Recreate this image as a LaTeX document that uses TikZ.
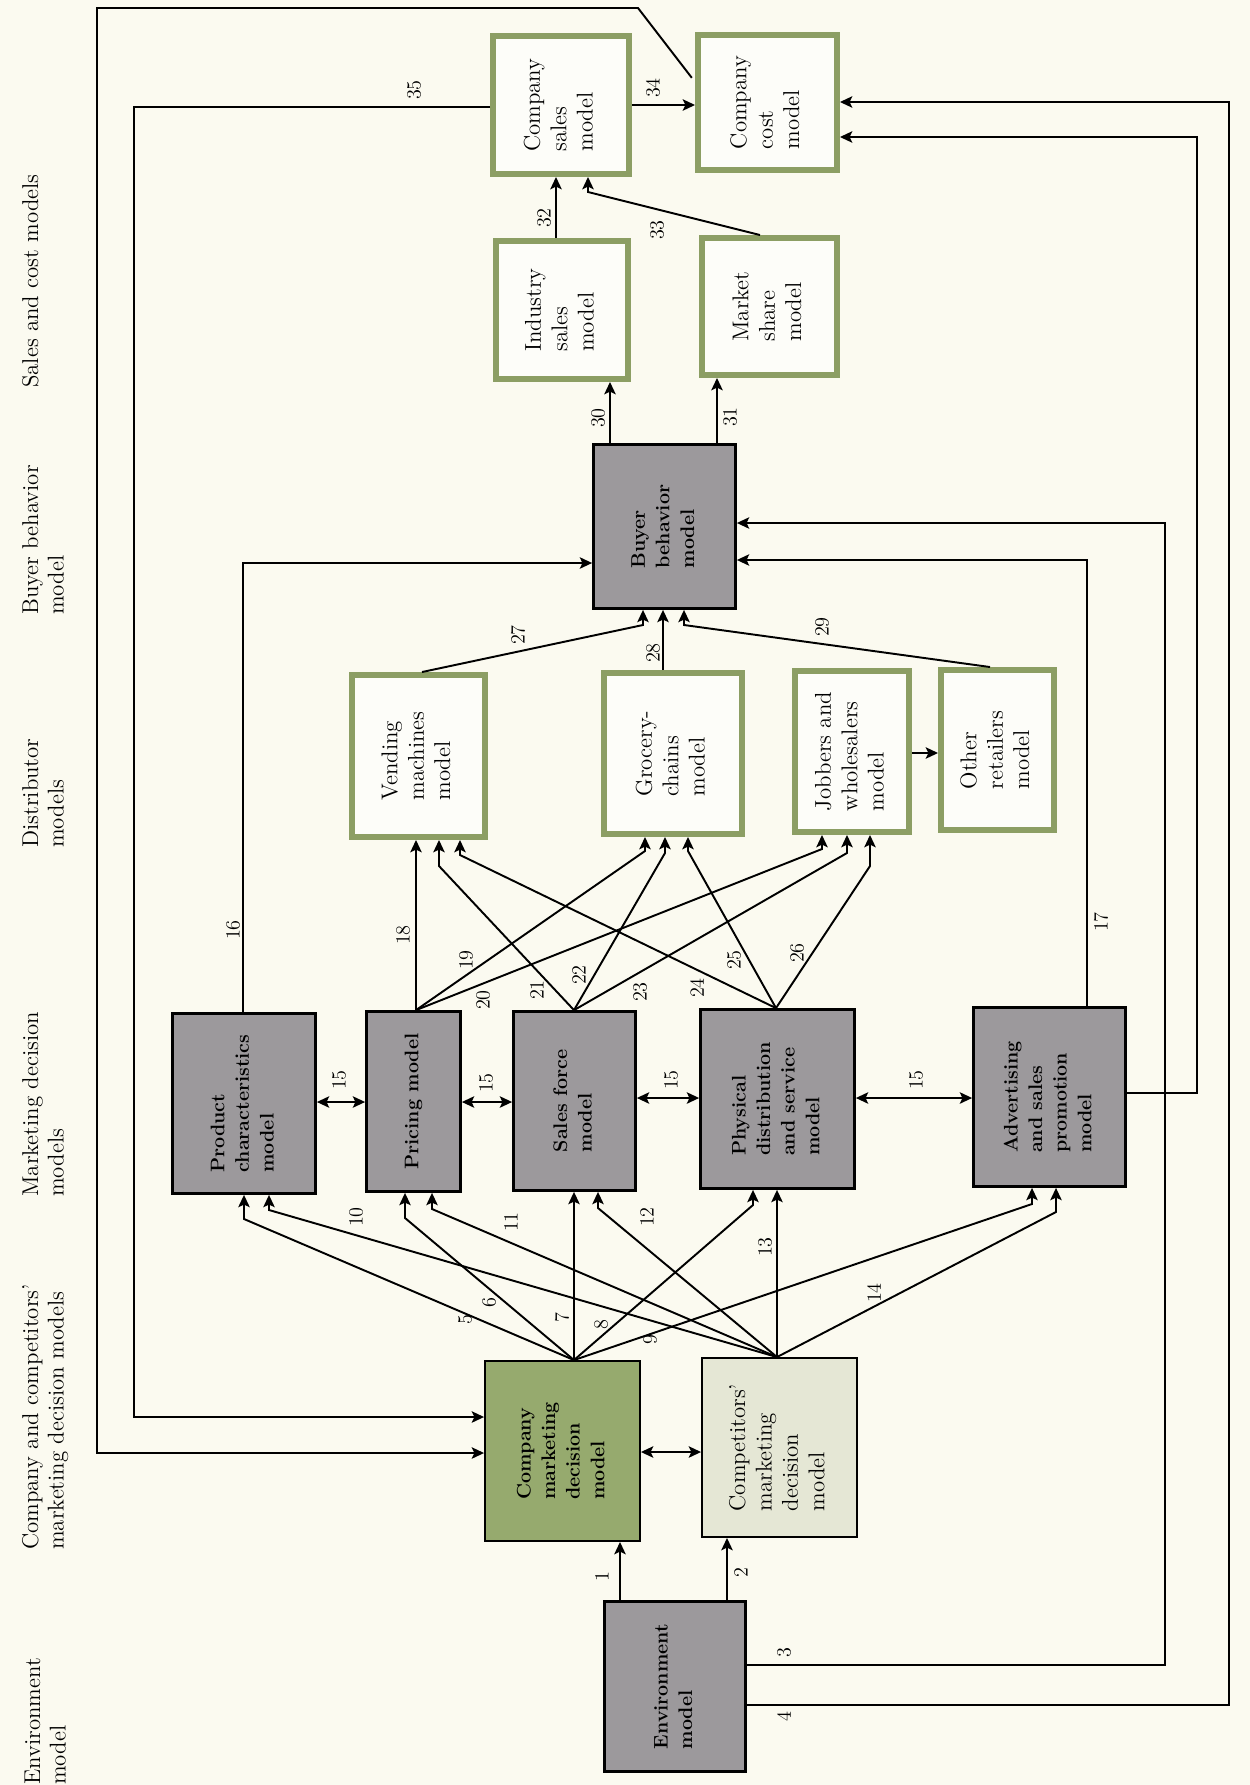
\documentclass[tikz,border=0pt]{standalone}
\usepackage{graphicx}
\usetikzlibrary{arrows.meta}

\definecolor{paper}{RGB}{251,250,240}
\definecolor{olive}{RGB}{140,158,100}
\definecolor{leaf}{RGB}{150,170,110}
\definecolor{pale}{RGB}{229,231,213}
\definecolor{slate}{RGB}{156,153,156}

\newcommand\regfont{\fontsize{13}{15}\selectfont}
\newcommand\bldfont{\fontsize{11.2}{14}\selectfont\bfseries}
\newcommand\numfont{\fontsize{11.5}{13}\selectfont}
\newcommand\headfont{\fontsize{13}{14.5}\selectfont}
% text set bottom-to-top, lines aligned at their start
\newcommand\vlines[1]{\rotatebox{90}{\begin{tabular}{@{}l@{}}#1\end{tabular}}}

\tikzset{
  gbox/.style={draw=olive, line width=3.4pt, fill=paper!40!white, inner sep=0pt, font=\regfont},
  dbox/.style={draw=black, line width=1.6pt, fill=slate, inner sep=0pt, font=\bldfont},
  tip/.tip={Stealth[length=7pt,width=6.5pt,inset=1.5pt]},
  wire/.style={line width=1.1pt},
  arr/.style={line width=1.1pt, -tip},
  dbl/.style={line width=1.1pt, tip-tip},
  num/.style={font=\numfont, inner sep=0pt},
  head/.style={font=\headfont, inner sep=0pt, anchor=south west},
}

\begin{document}
\begin{tikzpicture}[x=0.02cm, y=-0.02cm, line join=miter]
\useasboundingbox (0,0) rectangle (1250,1785);
\fill[paper] (0,0) rectangle (1250,1785);

% column headings
\node[head] (h1) at (20,388)  {\vlines{Sales and cost models}};
\node[head] (h2) at (20,615)  {\vlines{Buyer behavior\\model}};
\node[head] (h3) at (20,848)  {\vlines{Distributor\\models}};
\node[head] (h4) at (20,1197) {\vlines{Marketing decision\\models}};
\node[head] (h5) at (20,1550) {\vlines{Company and competitors'\\marketing decision models}};
\node[head] (h6) at (22,1785) {\vlines{Environment\\model}};

% sales and cost models
\node[gbox, minimum width=2.72cm, minimum height=2.76cm] (cs) at (561,105)   {\vlines{Company\\sales\\model}};
\node[gbox, minimum width=2.78cm, minimum height=2.70cm] (cc) at (767.5,102.5) {\vlines{Company\\cost\\model}};
\node[gbox, minimum width=2.64cm, minimum height=2.76cm] (is) at (562,310)   {\vlines{Industry\\sales\\model}};
\node[gbox, minimum width=2.70cm, minimum height=2.74cm] (ms) at (769.5,306.5) {\vlines{Market\\share\\model}};

% buyer behavior model
\node[dbox, minimum width=2.84cm, minimum height=3.28cm] (bb) at (664.5,526.5) {\vlines{Buyer\\behavior\\model}};

% distributor models
\node[gbox, minimum width=2.66cm, minimum height=3.24cm] (vm) at (418.5,756)  {\vlines{Vending\\machines\\model}};
\node[gbox, minimum width=2.76cm, minimum height=3.22cm] (gc) at (673,753.5)  {\vlines{Grocery-\\chains\\model}};
\node[gbox, minimum width=2.28cm, minimum height=3.22cm] (jw) at (852,751.5)  {\vlines{Jobbers and\\wholesalers\\model}};
\node[gbox, minimum width=2.26cm, minimum height=3.20cm] (or) at (997.5,750)  {\vlines{Other\\retailers\\model}};

% marketing decision models
\node[dbox, minimum width=2.86cm, minimum height=3.60cm] (pc) at (244,1103.5)  {\vlines{Product\\characteristics\\model}};
\node[dbox, minimum width=1.88cm, minimum height=3.60cm] (pm) at (413.5,1101.5) {\vlines{Pricing model}};
\node[dbox, minimum width=2.44cm, minimum height=3.58cm] (sf) at (574.5,1101)  {\vlines{Sales force\\model}};
\node[dbox, minimum width=3.08cm, minimum height=3.58cm] (pd) at (777.5,1099)  {\vlines{Physical\\distribution\\and service\\model}};
\node[dbox, minimum width=3.04cm, minimum height=3.58cm] (ad) at (1049.5,1097) {\vlines{Advertising\\and sales\\promotion\\model}};

% company and competitors' decision models
\node[draw=black, line width=1.1pt, fill=leaf, inner sep=0pt, font=\bldfont,
      minimum width=3.10cm, minimum height=3.60cm] (cm) at (562.5,1451) {\vlines{Company\\marketing\\decision\\model}};
\node[draw=black, line width=1.1pt, fill=pale, inner sep=0pt, font=\regfont,
      minimum width=3.10cm, minimum height=3.58cm] (cp) at (779.5,1447.5) {\vlines{Competitors'\\marketing\\decision\\model}};

% environment model
\node[dbox, minimum width=2.82cm, minimum height=3.40cm] (en) at (675,1686.5) {\vlines{Environment\\model}};

% environment links
\draw[arr] (en.north -| 620,0) -- (cm.south -| 620,0);
\draw[arr] (en.north -| 727,0) -- (cp.south -| 727,0);
\draw[arr] (en.east |- 0,1665) -- (1165,1665) -- (1165,523) -- (bb.east |- 0,523);
\draw[arr] (en.east |- 0,1705) -- (1229,1705) -- (1229,102) -- (cc.east |- 0,102);
\draw[dbl] (cm.east |- 0,1452) -- (cp.west |- 0,1452);

% decision models to marketing decision models
\draw[arr] (cm.north -| 574,0) -- (244,1219) -- (pc.south -| 244,0);
\draw[arr] (cm.north -| 574,0) -- (405,1218) -- (pm.south -| 405,0);
\draw[arr] (cm.north -| 574,0) -- (sf.south -| 574,0);
\draw[arr] (cm.north -| 574,0) -- (753,1205) -- (pd.south -| 753,0);
\draw[arr] (cm.north -| 574,0) -- (1032,1204) -- (ad.south -| 1032,0);
\draw[arr] (cp.north -| 777,0) -- (269,1210) -- (pc.south -| 269,0);
\draw[arr] (cp.north -| 777,0) -- (432,1209) -- (pm.south -| 432,0);
\draw[arr] (cp.north -| 777,0) -- (598,1208) -- (sf.south -| 598,0);
\draw[arr] (cp.north -| 777,0) -- (pd.south -| 777,0);
\draw[arr] (cp.north -| 777,0) -- (1056,1212) -- (ad.south -| 1056,0);

% links among marketing decision models
\draw[dbl] (pc.east |- 0,1102) -- (pm.west |- 0,1102);
\draw[dbl] (pm.east |- 0,1102) -- (sf.west |- 0,1102);
\draw[dbl] (sf.east |- 0,1098) -- (pd.west |- 0,1098);
\draw[dbl] (pd.east |- 0,1098) -- (ad.west |- 0,1098);

% marketing decision models to distributors
\draw[arr] (pm.north -| 416,0) -- (vm.south -| 416,0);
\draw[arr] (pm.north -| 416,0) -- (645,851) -- (gc.south -| 645,0);
\draw[arr] (pm.north -| 416,0) -- (822,849) -- (jw.south -| 822,0);
\draw[arr] (sf.north -| 574,0) -- (439,866) -- (vm.south -| 439,0);
\draw[arr] (sf.north -| 574,0) -- (665,853) -- (gc.south -| 665,0);
\draw[arr] (sf.north -| 574,0) -- (847,853) -- (jw.south -| 847,0);
\draw[arr] (pd.north -| 776,0) -- (460,855) -- (vm.south -| 460,0);
\draw[arr] (pd.north -| 776,0) -- (688,851) -- (gc.south -| 688,0);
\draw[arr] (pd.north -| 776,0) -- (870,866) -- (jw.south -| 870,0);
\draw[arr] (jw.east |- 0,753) -- (or.west |- 0,753);

% inputs of the buyer behavior model
\draw[arr] (pc.north -| 243,0) -- (243,563) -- (bb.west |- 0,563);
\draw[arr] (ad.north -| 1087,0) -- (1087,560) -- (bb.east |- 0,560);
\draw[arr] (vm.north -| 422,0) -- (643,625) -- (bb.south -| 643,0);
\draw[arr] (gc.north -| 663,0) -- (bb.south -| 663,0);
\draw[arr] (or.north -| 990,0) -- (684,625) -- (bb.south -| 684,0);

% sales and cost models
\draw[arr] (bb.north -| 610,0) -- (is.south -| 610,0);
\draw[arr] (bb.north -| 717,0) -- (ms.south -| 717,0);
\draw[arr] (is.north -| 556,0) -- (cs.south -| 556,0);
\draw[arr] (ms.north -| 760,0) -- (588,192) -- (cs.south -| 588,0);
\draw[arr] (cs.east |- 0,105) -- (cc.west |- 0,105);
\draw[arr] (ad.east |- 0,1093) -- (1197,1093) -- (1197,137) -- (cc.east |- 0,137);

% feedback to the company marketing decision model
\draw[arr] (cs.west |- 0,107) -- (134,107) -- (134,1417) -- (cm.west |- 0,1417);
\draw[arr, shorten <=3pt] (cc.west |- 0,82) -- (638,8) -- (97,8) -- (97,1453) -- (cm.west |- 0,1453);

% link numbers
\node[num] (n1)  at (602,1577) {\rotatebox{90}{1}};
\node[num] (n2)  at (741,1573) {\rotatebox{90}{2}};
\node[num] (n3)  at (784,1653) {\rotatebox{90}{3}};
\node[num] (n4)  at (784,1717) {\rotatebox{90}{4}};
\node[num] (n5)  at (465,1320) {\rotatebox{90}{5}};
\node[num] (n6)  at (489,1303) {\rotatebox{90}{6}};
\node[num] (n7)  at (562,1318) {\rotatebox{90}{7}};
\node[num] (n8)  at (601,1325) {\rotatebox{90}{8}};
\node[num] (n9)  at (650,1340) {\rotatebox{90}{9}};
\node[num] (n10) at (356,1217) {\rotatebox{90}{10}};
\node[num] (n11) at (511,1222) {\rotatebox{90}{11}};
\node[num] (n12) at (647,1217) {\rotatebox{90}{12}};
\node[num] (n13) at (765,1247) {\rotatebox{90}{13}};
\node[num] (n14) at (874,1293) {\rotatebox{90}{14}};
\node[num] (n15a) at (339,1080) {\rotatebox{90}{15}};
\node[num] (n15b) at (486,1083) {\rotatebox{90}{15}};
\node[num] (n15c) at (671,1080) {\rotatebox{90}{15}};
\node[num] (n15d) at (916,1080) {\rotatebox{90}{15}};
\node[num] (n16) at (233,930)  {\rotatebox{90}{16}};
\node[num] (n17) at (1101,922) {\rotatebox{90}{17}};
\node[num] (n18) at (403,935)  {\rotatebox{90}{18}};
\node[num] (n19) at (466,960)  {\rotatebox{90}{19}};
\node[num] (n20) at (483,1000) {\rotatebox{90}{20}};
\node[num] (n21) at (537,990)  {\rotatebox{90}{21}};
\node[num] (n22) at (579,975)  {\rotatebox{90}{22}};
\node[num] (n23) at (640,992)  {\rotatebox{90}{23}};
\node[num] (n24) at (697,988)  {\rotatebox{90}{24}};
\node[num] (n25) at (734,960)  {\rotatebox{90}{25}};
\node[num] (n26) at (797,953)  {\rotatebox{90}{26}};
\node[num] (n27) at (518,635)  {\rotatebox{90}{27}};
\node[num] (n28) at (653,653)  {\rotatebox{90}{28}};
\node[num] (n29) at (822,627)  {\rotatebox{90}{29}};
\node[num] (n30) at (598,418)  {\rotatebox{90}{30}};
\node[num] (n31) at (730,417)  {\rotatebox{90}{31}};
\node[num] (n32) at (544,218)  {\rotatebox{90}{32}};
\node[num] (n33) at (657,230)  {\rotatebox{90}{33}};
\node[num] (n34) at (653,88)   {\rotatebox{90}{34}};
\node[num] (n35) at (414,90)   {\rotatebox{90}{35}};
\end{tikzpicture}
\end{document}
